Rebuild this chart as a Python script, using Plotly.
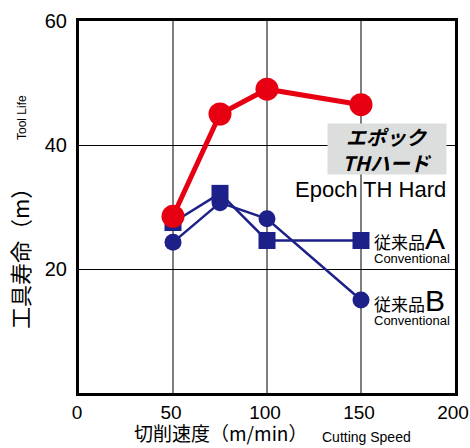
import plotly.graph_objects as go

speeds = [50, 75, 100, 150]
epoch_th_hard = [28.5, 45.0, 49.0, 46.5]
conventional_a = [27.5, 32.2, 24.6, 24.6]
conventional_b = [24.3, 30.7, 28.1, 15.0]

x_ticks = [0, 50, 100, 150, 200]
y_ticks = [20, 40, 60]

RED = "#e60012"
NAVY = "#1d2088"
JP = "Noto Sans CJK JP"
NARROW = "Liberation Sans Narrow, Arial Narrow, Liberation Sans, sans-serif"
SANS = "Liberation Sans, Arial, sans-serif"

fig = go.Figure()
fig.add_trace(go.Scatter(x=speeds, y=conventional_b, mode="lines+markers",
                         line=dict(color=NAVY, width=2.5),
                         marker=dict(symbol="circle", size=17, color=NAVY), name="B"))
fig.add_trace(go.Scatter(x=speeds, y=conventional_a, mode="lines+markers",
                         line=dict(color=NAVY, width=2.5),
                         marker=dict(symbol="square", size=17, color=NAVY), name="A"))
fig.add_trace(go.Scatter(x=speeds, y=epoch_th_hard, mode="lines+markers",
                         line=dict(color=RED, width=5),
                         marker=dict(symbol="circle", size=23, color=RED), name="Epoch"))

# pixel -> paper coordinates (plot area: x 79..455, y 21..393)
def px_x(p):
    return (p - 79) / 376

def px_y(p):
    return (393 - p) / 372

ann = []
ann.append(dict(x=px_x(387), y=px_y(149), text="<b><i>エポック<br>THハード</i></b>",
                showarrow=False, bgcolor="#dcdddd", width=116, height=48,
                font=dict(family=JP, size=20, color="black"), xanchor="center", yanchor="middle"))
ann.append(dict(x=px_x(448), y=px_y(189), text="Epoch TH Hard", showarrow=False,
                font=dict(family=SANS, size=22, color="black"), xanchor="right", yanchor="middle"))
for label, yc in [("A", 244), ("B", 306)]:
    ann.append(dict(x=px_x(372), y=px_y(yc),
                    text=("<span style='font-family:Noto Sans CJK JP;font-size:17px'>従来品</span>"
                          "<span style='font-size:30px'>" + label + "</span><br>"
                          "<span style='font-size:13px'>Conventional</span>"),
                    showarrow=False, font=dict(family=SANS, size=11, color="black"),
                    align="left", xanchor="left", yanchor="middle"))
# axis titles
ann.append(dict(x=px_x(220), y=px_y(433), text="切削速度（m/min）", showarrow=False, borderpad=0,
                font=dict(family=JP, size=19, color="black"), xanchor="center", yanchor="middle"))
ann.append(dict(x=px_x(366), y=px_y(437), text="Cutting Speed", showarrow=False,
                font=dict(family=SANS, size=14, color="black"), xanchor="center", yanchor="middle"))
ann.append(dict(x=px_x(19), y=px_y(253), text="工具寿命（m）", showarrow=False, textangle=-90,
                font=dict(family=JP, size=22, color="black"), xanchor="center", yanchor="middle"))
ann.append(dict(x=px_x(22), y=px_y(117), text="Tool Life", showarrow=False, textangle=-90,
                font=dict(family=SANS, size=12, color="black"), xanchor="center", yanchor="middle"))
for a in ann:
    a["xref"] = "paper"
    a["yref"] = "paper"

fig.update_layout(
    width=470, height=448,
    margin=dict(l=79, r=15, t=21, b=55),
    paper_bgcolor="white", plot_bgcolor="white",
    showlegend=False,
    annotations=ann,
    xaxis=dict(range=[0, 200], tickvals=x_ticks, showgrid=True, gridcolor="#7f7f7f", gridwidth=1.5,
               showline=True, linecolor="black", linewidth=3, mirror=True, zeroline=False,
               ticks="", ticklabelstandoff=0, ticklabelshift=-2, automargin=False,
               ticklabeloverflow="allow",
               tickfont=dict(family=NARROW, size=19, color="black")),
    yaxis=dict(range=[0, 60], tickvals=y_ticks, showgrid=True, gridcolor="black", gridwidth=1,
               showline=True, linecolor="black", linewidth=3, mirror=True, zeroline=False,
               ticks="", ticklabelstandoff=5, automargin=False, ticklabeloverflow="allow",
               tickfont=dict(family=NARROW, size=20, color="black")),
)
for tr in fig.data:
    tr.cliponaxis = False

fig.write_html("out.html", config={"displayModeBar": False},
               post_script="document.body.style.margin='0';document.body.style.overflow='hidden';")
